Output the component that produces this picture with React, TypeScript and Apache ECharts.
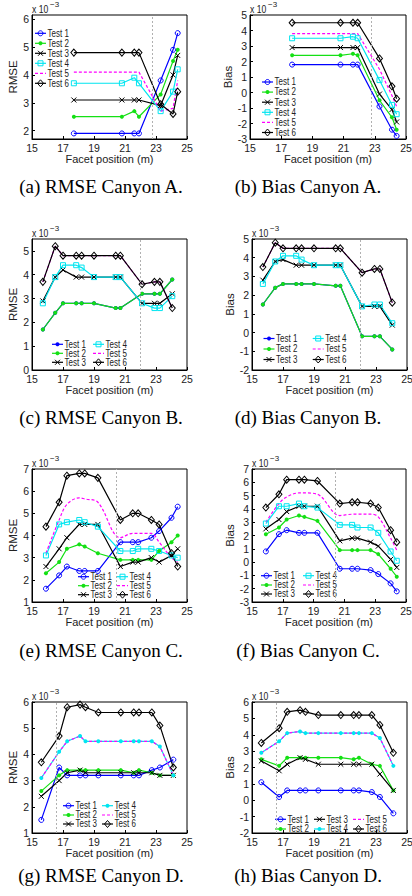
import React, { useEffect, useRef } from 'react';
import * as echarts from 'echarts';

const TEST_NAMES = ['Test 1', 'Test 2', 'Test 3', 'Test 4', 'Test 5', 'Test 6'];
const TEST_COLORS = ['#0000ff', '#14e014', '#000000', '#00e5f0', '#ff00ff', '#000000'];
const X_TICKS = [15, 17, 19, 21, 23, 25];

// Canyon A
const xCanyonA = [17.7, 20.8, 21.6, 21.9, 23.3, 24.1, 24.4];
const rmseA = [
  [1.9, 1.9, 1.9, 1.9, 3.8, 4.9, 5.5],
  [2.5, 2.5, 2.7, 2.5, 3.3, 4.5, 4.9],
  [3.1, 3.1, 3.1, 3.1, 2.9, 4.0, 4.7],
  [3.7, 3.7, 3.9, 3.7, 2.7, 3.4, 4.2],
  [4.1, 4.1, 4.1, 4.1, 2.7, 2.8, 3.8],
  [4.8, 4.8, 4.8, 4.8, 2.95, 2.6, 3.4],
];
const biasA = [
  [1.8, 1.8, 1.8, 1.8, -0.9, -2.4, -2.8],
  [2.4, 2.4, 2.5, 2.4, -0.5, -1.6, -2.4],
  [2.9, 2.9, 2.9, 2.9, -0.1, -1.1, -1.9],
  [3.5, 3.5, 3.6, 3.5, 0.8, -0.8, -1.4],
  [3.8, 3.8, 3.8, 3.8, 1.5, -0.2, -0.9],
  [4.5, 4.5, 4.5, 4.5, 2.2, 0.4, -0.4],
];

// Canyon B
const xCanyonB = [15.7, 16.5, 17.0, 17.85, 18.2, 19.0, 20.4, 20.7, 22.1, 22.9, 23.25, 24.05];
const rmseB = [
  [1.7, 2.4, 2.8, 2.8, 2.8, 2.8, 2.6, 2.6, 3.2, 3.2, 3.2, 3.8],
  [1.7, 2.4, 2.8, 2.8, 2.8, 2.8, 2.6, 2.6, 3.2, 3.2, 3.2, 3.8],
  [2.9, 3.9, 4.2, 3.9, 3.9, 3.9, 3.9, 3.9, 2.8, 2.8, 2.8, 3.2],
  [2.8, 3.9, 4.4, 4.4, 4.3, 3.9, 3.9, 3.9, 2.8, 2.6, 2.6, 3.1],
  [3.7, 5.2, 4.8, 4.8, 4.8, 4.8, 4.8, 4.8, 3.6, 3.7, 3.7, 2.6],
  [3.7, 5.2, 4.8, 4.8, 4.8, 4.8, 4.8, 4.8, 3.6, 3.7, 3.7, 2.6],
];
const biasB = [
  [1.5, 2.4, 2.6, 2.6, 2.6, 2.6, 2.5, 2.5, -0.2, -0.2, -0.2, -0.9],
  [1.5, 2.4, 2.6, 2.6, 2.6, 2.6, 2.5, 2.5, -0.2, -0.2, -0.2, -0.9],
  [2.8, 3.8, 3.9, 3.6, 3.6, 3.6, 3.6, 3.6, 1.4, 1.4, 1.4, 0.4],
  [2.6, 3.8, 4.1, 4.1, 3.9, 3.6, 3.6, 3.6, 1.4, 1.5, 1.5, 0.5],
  [3.5, 4.8, 4.5, 4.5, 4.5, 4.5, 4.5, 4.5, 3.2, 3.4, 3.4, 1.6],
  [3.5, 4.8, 4.5, 4.5, 4.5, 4.5, 4.5, 4.5, 3.2, 3.4, 3.4, 1.6],
];

// Canyon C
const xCanyonC = [15.9, 16.75, 17.25, 18.05, 18.4, 19.25, 20.7, 21.5, 21.85, 22.7, 23.2, 24.0, 24.4];
const rmseC = [
  [1.6, 2.2, 2.6, 2.4, 2.4, 2.4, 3.7, 3.7, 3.7, 3.9, 4.2, 4.8, 5.3],
  [2.3, 2.8, 3.4, 3.6, 3.5, 3.2, 2.9, 2.9, 2.9, 2.9, 3.3, 3.7, 4.0],
  [2.6, 3.4, 3.9, 4.5, 4.5, 4.5, 2.6, 2.8, 2.8, 3.0, 2.8, 3.1, 3.4],
  [3.1, 4.5, 4.6, 4.7, 4.6, 4.4, 3.3, 3.3, 3.4, 3.4, 3.3, 3.1, 3.0],
  [3.2, 4.7, 5.4, 5.7, 5.65, 5.5, 3.9, 4.1, 4.1, 4.1, 3.7, 3.0, 2.8],
  [4.4, 5.5, 6.7, 6.8, 6.8, 6.6, 4.7, 5.0, 5.0, 4.7, 4.5, 3.2, 2.6],
];
const biasC = [
  [0.8, 2.1, 2.4, 2.2, 2.2, 2.2, -0.5, -0.5, -0.5, -0.6, -0.9, -1.6, -2.2],
  [2.1, 2.6, 3.2, 3.5, 3.4, 3.1, 0.9, 0.9, 0.9, 0.9, 0.6, -0.5, -1.1],
  [2.5, 3.2, 3.8, 4.2, 4.2, 4.2, 1.6, 1.8, 1.8, 1.5, 1.2, 0.2, -0.4],
  [2.9, 4.2, 4.2, 4.4, 4.2, 4.1, 2.8, 2.8, 2.6, 2.6, 2.2, 0.8, 0.1],
  [3.0, 4.4, 4.9, 5.2, 5.2, 5.1, 3.5, 3.6, 3.6, 3.6, 3.4, 1.8, 0.9],
  [4.1, 5.1, 6.2, 6.2, 6.2, 6.1, 4.4, 4.5, 4.5, 4.4, 4.1, 2.4, 1.5],
];

// Canyon D
const xCanyonD = [15.6, 16.75, 17.27, 18.1, 18.45, 19.28, 20.73, 21.56, 21.9, 22.73, 23.25, 24.12];
const rmseD = [
  [1.5, 3.5, 3.2, 3.2, 3.2, 3.2, 3.2, 3.2, 3.2, 3.4, 3.5, 3.8],
  [2.6, 3.2, 3.4, 3.4, 3.4, 3.4, 3.4, 3.3, 3.4, 3.3, 3.2, 3.2],
  [2.4, 3.0, 3.3, 3.4, 3.3, 3.3, 3.3, 3.3, 3.3, 3.3, 3.2, 3.2],
  [3.1, 4.1, 4.5, 4.7, 4.5, 4.5, 4.5, 4.5, 4.5, 4.5, 4.3, 3.2],
  [3.1, 4.1, 4.5, 4.7, 4.5, 4.5, 4.5, 4.5, 4.5, 4.5, 4.3, 3.2],
  [3.7, 4.7, 5.8, 5.9, 5.8, 5.6, 5.6, 5.6, 5.6, 5.6, 5.1, 3.5],
];
const biasD = [
  [1.1, 0.2, 0.6, 0.6, 0.6, 0.6, 0.6, 0.6, 0.6, 0.5, 0.2, -0.8],
  [2.5, 2.1, 2.6, 2.6, 2.6, 2.6, 2.6, 2.5, 2.6, 2.2, 2.1, 0.6],
  [2.4, 1.8, 2.2, 2.6, 2.5, 2.2, 2.2, 2.2, 2.2, 2.2, 1.6, 0.6],
  [2.9, 3.6, 4.1, 4.2, 4.1, 4.1, 4.1, 4.1, 4.1, 4.1, 3.8, 2.1],
  [2.9, 3.6, 4.1, 4.2, 4.1, 4.1, 4.1, 4.1, 4.1, 4.1, 3.8, 2.1],
  [3.5, 4.4, 5.4, 5.5, 5.4, 5.2, 5.2, 5.2, 5.2, 5.2, 4.6, 2.9],
];

const yTicksRmseA = [2, 3, 4, 5, 6];
const yTicksBiasA = [-3, -2, -1, 0, 1, 2, 3, 4, 5];
const yTicksRmseB = [0, 1, 2, 3, 4, 5];
const yTicksBiasB = [-2, -1, 0, 1, 2, 3, 4, 5];
const yTicksRmseC = [1, 2, 3, 4, 5, 6, 7];
const yTicksBiasC = [-3, -2, -1, 0, 1, 2, 3, 4, 5, 6, 7];
const yTicksRmseD = [1, 2, 3, 4, 5, 6];
const yTicksBiasD = [-2, -1, 0, 1, 2, 3, 4, 5, 6];

const markersA = ['o', 'dot', 'x', 'sq', 'none', 'dia'];
const markersB = ['dot', 'dot', 'x', 'sq', 'none', 'dia'];
const markersD = ['o', 'dot', 'x', 'dot', 'none', 'dia'];

const SANS = "'Liberation Sans Narrow', 'Liberation Sans', Arial, sans-serif";
const SERIF = "'Liberation Serif', 'Times New Roman', serif";

const COL2 = [[0, 1, 2], [3, 4, 5]];

const panels = [
  {
    x: xCanyonA, ys: rmseA, yName: 'RMSE', yMin: 1.7, yMax: 6.15, yTicks: yTicksRmseA, divider: 22.75,
    markers: markersA, caption: '(a) RMSE Canyon A.', grid: { left: 32, top: 15, width: 155, height: 124 },
    capX: 101, capY: 186, yGap: 7, xGap: 10, smooth: false,
    legend: { cols: [[0, 1, 2, 3, 4, 5]], colX: [35], rowY: [33.3, 43.3, 53.3, 63.3, 73.3, 83.3] },
  },
  {
    x: xCanyonA, ys: biasA, yName: 'Bias', yMin: -3, yMax: 5, yTicks: yTicksBiasA, divider: 22.8,
    markers: markersA, caption: '(b) Bias Canyon A.', grid: { left: 250, top: 15, width: 156, height: 124 },
    capX: 308, capY: 186, yGap: 12, xGap: 11, smooth: false,
    legend: { cols: [[0, 1, 2, 3, 4, 5]], colX: [262], rowY: [82, 92.1, 102.2, 112.3, 122.4, 132.5] },
  },
  {
    x: xCanyonB, ys: rmseB, yName: 'RMSE', yMin: 0, yMax: 5.5, yTicks: yTicksRmseB, divider: 22.0,
    markers: markersB, caption: '(c) RMSE Canyon B.', grid: { left: 32, top: 239, width: 155, height: 131 },
    capX: 101, capY: 417, yGap: 8, xGap: 10, smooth: false,
    legend: { cols: COL2, colX: [52, 93], rowY: [344.3, 353.3, 362.3] },
  },
  {
    x: xCanyonB, ys: biasB, yName: 'Bias', yMin: -2, yMax: 5, yTicks: yTicksBiasB, divider: 22.0,
    markers: markersB, caption: '(d) Bias Canyon B.', grid: { left: 252, top: 239, width: 155, height: 131 },
    capX: 308, capY: 417, yGap: 12, xGap: 10, smooth: false,
    legend: { cols: COL2, colX: [263.5, 312.7], rowY: [338.5, 349, 359.5] },
  },
  {
    x: xCanyonC, ys: rmseC, yName: 'RMSE', yMin: 1, yMax: 7, yTicks: yTicksRmseC, divider: 20.42,
    markers: markersA, caption: '(e) RMSE Canyon C.', grid: { left: 32, top: 469, width: 155, height: 133 },
    capX: 101, capY: 650, yGap: 8, xGap: 10, smooth: true,
    legend: { cols: COL2, colX: [78, 117], rowY: [576.7, 585.7, 594.7] },
  },
  {
    x: xCanyonC, ys: biasC, yName: 'Bias', yMin: -3, yMax: 7, yTicks: yTicksBiasC, divider: 20.4,
    markers: markersA, caption: '(f) Bias Canyon C.', grid: { left: 252, top: 469, width: 154, height: 133 },
    capX: 308, capY: 650, yGap: 12, xGap: 10, smooth: true,
    legend: { cols: COL2, colX: [261, 303], rowY: [575.7, 585, 594] },
  },
  {
    x: xCanyonD, ys: rmseD, yName: 'RMSE', yMin: 1, yMax: 6, yTicks: yTicksRmseD, divider: 16.58,
    markers: markersD, caption: '(g) RMSE Canyon D.', grid: { left: 32, top: 702, width: 155, height: 131 },
    capX: 101, capY: 875, yGap: 8, xGap: 10, smooth: false,
    legend: { cols: COL2, colX: [63, 102], rowY: [805.7, 815, 824] },
  },
  {
    x: xCanyonD, ys: biasD, yName: 'Bias', yMin: -2, yMax: 6, yTicks: yTicksBiasD, divider: 16.55,
    markers: markersD, caption: '(h) Bias Canyon D.', grid: { left: 252, top: 702, width: 155, height: 131 },
    capX: 308, capY: 875, yGap: 12, xGap: 11, smooth: false,
    legend: { cols: [[0, 1], [2, 3], [4, 5]], colX: [275, 314, 353], rowY: [819.3, 829] },
  },
];

function symbolProps(m: string, color: string) {
  switch (m) {
    case 'o':
      return { symbol: 'circle', symbolSize: 5, itemStyle: { color: 'none', borderColor: color, borderWidth: 1 } };
    case 'dot':
      return { symbol: 'circle', symbolSize: 4, itemStyle: { color, borderWidth: 0 } };
    case 'x':
      return { symbol: 'path://M0,0L10,10M10,0L0,10', symbolSize: 5, itemStyle: { color, borderColor: color, borderWidth: 1 } };
    case 'sq':
      return { symbol: 'rect', symbolSize: 5, itemStyle: { color: 'none', borderColor: color, borderWidth: 1 } };
    case 'dia':
      return { symbol: 'diamond', symbolSize: [6, 7], itemStyle: { color: 'none', borderColor: color, borderWidth: 1 } };
    default:
      return { symbol: 'none', showSymbol: false };
  }
}

function legendMarker(m: string, cx: number, cy: number, color: string): any[] {
  switch (m) {
    case 'o':
      return [{ type: 'circle', shape: { cx, cy, r: 2.5 }, style: { fill: 'none', stroke: color, lineWidth: 1 }, silent: true }];
    case 'dot':
      return [{ type: 'circle', shape: { cx, cy, r: 2 }, style: { fill: color }, silent: true }];
    case 'x':
      return [
        { type: 'line', shape: { x1: cx - 2.5, y1: cy - 2.5, x2: cx + 2.5, y2: cy + 2.5 }, style: { stroke: color, lineWidth: 1 }, silent: true },
        { type: 'line', shape: { x1: cx + 2.5, y1: cy - 2.5, x2: cx - 2.5, y2: cy + 2.5 }, style: { stroke: color, lineWidth: 1 }, silent: true },
      ];
    case 'sq':
      return [{ type: 'rect', shape: { x: cx - 2.5, y: cy - 2.5, width: 5, height: 5 }, style: { fill: 'none', stroke: color, lineWidth: 1 }, silent: true }];
    case 'dia':
      return [{ type: 'polygon', shape: { points: [[cx, cy - 3.5], [cx + 3, cy], [cx, cy + 3.5], [cx - 3, cy]] }, style: { fill: 'none', stroke: color, lineWidth: 1 }, silent: true }];
    default:
      return [];
  }
}

function buildOption() {
  const graphics: any[] = [];
  const series: any[] = [];
  panels.forEach((p, i) => {
    p.ys.forEach((vals, t) => {
      const color = TEST_COLORS[t];
      const m = p.markers[t];
      const s: any = {
        type: 'line',
        name: TEST_NAMES[t],
        xAxisIndex: i,
        yAxisIndex: i,
        data: p.x.map((xv, k) => [xv, vals[k]]),
        lineStyle: { color, width: 1.2, type: m === 'none' ? [3, 2] : 'solid' },
        smooth: p.smooth && m === 'none' ? 0.35 : false,
        silent: true,
        emphasis: { disabled: true },
        ...symbolProps(m, color),
      };
      if (t === 0) {
        s.markLine = {
          silent: true,
          symbol: ['none', 'none'],
          label: { show: false },
          lineStyle: { color: '#b0b0b0', type: [2, 2], width: 1 },
          data: [{ xAxis: p.divider }],
        };
      }
      series.push(s);
    });

    // legend
    p.legend.cols.forEach((col, ci) => {
      col.forEach((ti, ri) => {
        const x0 = p.legend.colX[ci];
        const y = p.legend.rowY[ri];
        const color = TEST_COLORS[ti];
        const m = p.markers[ti];
        graphics.push({
          type: 'line', silent: true,
          shape: { x1: x0, y1: y, x2: x0 + 11, y2: y },
          style: { stroke: color, lineWidth: 1.2, lineDash: m === 'none' ? [3, 2] : null },
        });
        legendMarker(m, x0 + 5.5, y, color).forEach((g) => graphics.push(g));
        graphics.push({
          type: 'text', silent: true, x: x0 + 12.5, y, scaleX: 0.8,
          style: { text: TEST_NAMES[ti], fill: '#222', fontSize: 10, fontFamily: SANS, align: 'left', verticalAlign: 'middle' },
        });
      });
    });

    // exponent label
    graphics.push({
      type: 'text', silent: true, x: p.grid.left, y: p.grid.top - 6, scaleX: 0.82,
      style: { text: 'x 10', fill: '#222', fontSize: 10.5, fontFamily: SANS, align: 'left', verticalAlign: 'middle' },
    });
    graphics.push({
      type: 'text', silent: true, x: p.grid.left + 18, y: p.grid.top - 11,
      style: { text: '\u22123', fill: '#222', fontSize: 8, fontFamily: SANS, align: 'left', verticalAlign: 'middle' },
    });

    // caption
    graphics.push({
      type: 'text', silent: true, x: p.capX, y: p.capY,
      style: { text: p.caption, fill: '#000', fontSize: 19, fontFamily: SERIF, align: 'center', verticalAlign: 'middle' },
    });
  });

  const labelStyle = { color: '#222', fontSize: 10.5, fontFamily: SANS };

  return {
    animation: false,
    backgroundColor: '#ffffff',
    grid: panels.map((p) => ({
      ...p.grid,
      show: true,
      borderColor: '#000',
      borderWidth: 1,
      backgroundColor: 'transparent',
      containLabel: false,
      outerBoundsMode: 'none',
    })),
    xAxis: panels.map((p, i) => ({
      type: 'value',
      gridIndex: i,
      min: X_TICKS[0],
      max: X_TICKS[X_TICKS.length - 1],
      interval: 2,
      name: 'Facet position (m)',
      nameLocation: 'middle',
      nameGap: p.xGap,
      nameTextStyle: { color: '#222', fontSize: 11, fontFamily: SANS },
      axisLine: { show: true, onZero: false, lineStyle: { color: '#000', width: 1 } },
      axisTick: { show: true, inside: true, length: 3, lineStyle: { color: '#000' } },
      axisLabel: { ...labelStyle, margin: 3, showMinLabel: true, showMaxLabel: true },
      splitLine: { show: false },
    })),
    yAxis: panels.map((p, i) => ({
      type: 'value',
      gridIndex: i,
      min: p.yMin,
      max: p.yMax,
      interval: 1,
      name: p.yName,
      nameLocation: 'middle',
      nameGap: p.yGap,
      nameTextStyle: { color: '#222', fontSize: 11.5, fontFamily: SANS },
      axisLine: { show: true, onZero: false, lineStyle: { color: '#000', width: 1 } },
      axisTick: { show: true, inside: true, length: 3, lineStyle: { color: '#000' }, customValues: p.yTicks },
      axisLabel: { ...labelStyle, margin: 3, customValues: p.yTicks },
      splitLine: { show: false },
    })),
    series,
    graphic: { elements: graphics },
  };
}

export default function App() {
  const ref = useRef<HTMLDivElement>(null);
  useEffect(() => {
    if (!ref.current) return;
    const chart = echarts.init(ref.current, undefined, { renderer: 'svg' });
    chart.setOption(buildOption() as any);
    return () => {
      chart.dispose();
    };
  }, []);
  return (
    <div
      ref={ref}
      style={{ position: 'absolute', left: 0, top: 0, width: 412, height: 896, background: '#fff' }}
    />
  );
}
